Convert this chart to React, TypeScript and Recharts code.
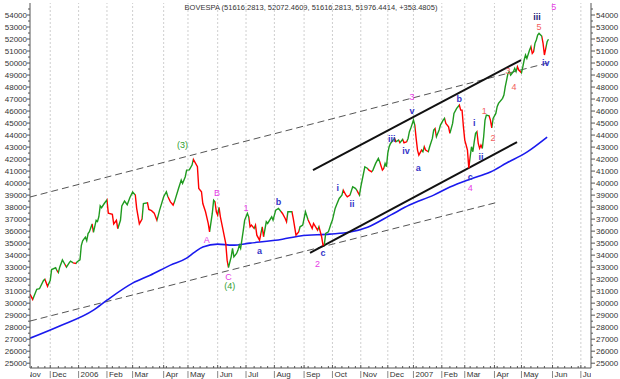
import React from "react";
import { ComposedChart, Line, XAxis, YAxis, ReferenceLine, ReferenceDot } from "recharts";

// session index (0 = first session shown) and closing levels
const days = [
  0, 2, 5, 7, 10, 11, 13, 15, 16, 19, 20, 21, 22, 24, 26, 27, 29, 30, 32, 34, 35, 37, 38, 39, 41, 42, 43, 44, 46, 47,
  49, 50, 51, 52, 53, 55, 57, 58, 61, 62, 64, 65, 67, 68, 70, 72, 74, 76, 78, 79, 81, 83, 84, 87, 88,
  90, 92, 94, 96, 99, 101, 102, 104, 106, 107, 110, 112, 113, 115, 116, 118, 120, 121, 124, 125, 127, 128, 130, 132, 133,
  135, 136, 137, 138, 139, 140, 141, 143, 144, 145, 146, 147, 149, 150, 151, 153, 154, 155, 156, 158, 159, 161, 162, 163,
  164, 166, 167, 168, 170, 171, 172, 173, 175, 176, 179, 180, 182, 184, 186, 187, 189, 190, 191, 194, 195, 197, 199, 200,
  202, 204, 206, 209, 210, 213, 214, 216, 217, 218, 219, 221, 223, 224, 226, 227, 229, 231, 232, 234, 235, 237, 239, 241,
  242, 244, 245, 247, 248, 250, 251, 253, 254, 256, 258, 259, 261, 262, 263, 264, 265, 266, 267, 268, 270, 271, 273, 274,
  276, 277, 279, 280, 281, 282, 284, 285, 286, 287, 288, 290, 291, 292, 293, 295, 296, 298, 299, 300, 301, 303, 304, 306,
  307, 308, 310, 311, 313, 314, 316, 317, 318, 319, 320, 321, 322, 323, 324, 325, 326, 327, 328, 329, 330, 331, 332, 333,
  334, 335, 336, 337, 338, 340, 341, 342, 343, 345, 346, 347, 350, 351, 352, 353, 354, 355, 356, 358, 359, 360, 361, 362,
  364, 365, 366, 367, 368, 370, 371, 372, 373, 374, 375, 376, 377, 379, 380, 381, 382, 383, 384,
];
const closes = [
  30750, 30300, 31150, 31200, 31900, 32000, 31400, 31900, 32800, 32950, 32700, 32550, 33000, 33600, 33200, 33000, 33350,
  33500, 33350, 33300, 33450, 33600, 34800, 35200, 35500, 35200, 35800, 35950, 36600, 35900,
  36900, 36800, 37200, 38100, 37950, 38300, 38600, 37500, 37400, 36600, 36900, 36200, 36900, 38100, 38500, 38200, 38800,
  39250, 39000, 37900, 36600, 37000, 38300, 38350, 37800,
  37700, 37500, 36900, 37750, 38860, 39280, 38900, 38440, 38170, 38440, 39550, 40250, 39970, 40530, 41080, 41100, 41500,
  41970, 41360, 39550, 39280, 38300, 37610, 36640, 35940,
  37470, 38580, 38440, 37610, 37330, 37970, 37190, 36080, 35530, 34970, 33580, 32970, 33860, 34560, 33860, 34140, 34400,
  34830, 34560, 36080, 36920, 37470, 37190, 36360,
  36500, 36220, 36500, 35660, 35250, 35800, 36360, 35530, 36780, 36640, 37190, 36920, 37750, 37890, 37610, 37470, 37050,
  36780, 37610, 37610, 37050, 35660, 35940, 36360,
  36500, 37610, 36920, 36220, 36640, 36080, 36360, 35530, 34830, 34900, 35800, 35940, 36640, 36920, 37890, 38170, 38720,
  38990, 39420, 38990, 38860, 39000, 39690, 39560,
  39420, 39000, 39690, 40800, 41360, 41220, 41080, 40940, 41080, 41640, 42060, 41780, 41080, 41220, 41640, 41360, 42500,
  43030, 43300, 43440, 43720, 43440, 43580, 43360,
  43640, 43360, 43440, 43720, 44280, 44560, 45250, 44830, 43720, 42750, 42330, 42750, 42610, 43030, 42750, 42610, 43030,
  43720, 44420, 44550, 43860, 44420, 44830, 45250,
  45390, 44970, 44690, 44140, 44970, 45800, 46220, 46360, 46500, 46080, 46080, 44700, 43580, 43170, 42750, 41240, 42190,
  43030, 42610, 43440, 44140, 44280, 43310, 42890,
  43170, 42890, 43860, 45250, 45670, 45600, 45250, 44600, 45390, 45800, 46360, 46640, 47060, 47330, 48030, 48580, 49140,
  49280, 49000, 49280, 49560, 49280, 49690, 49420,
  49190, 49690, 50250, 50670, 50390, 51080, 51360, 50810, 50950, 51640, 51920, 52330, 52470, 52250, 51640, 50670, 51220,
  51780, 51980,
];

// long moving average
const maDays = [0, 22, 47, 57, 76, 89, 104, 116, 122, 128, 139, 150, 163, 187, 200, 222, 237, 250, 267, 281, 299, 311, 326, 341, 353, 368, 383];
const maValues = [
  27080, 28100, 29420, 30250, 31670, 32330, 33170, 33750, 34250, 34670, 34920, 34830, 35000, 35330, 35600, 35750, 35920,
  36330, 37330, 38170, 39000, 39670, 40330, 40920, 41670, 42580, 43830,
];

// month ticks
const monthDays = [-4, 15, 36, 57, 76, 99, 117, 139, 160, 181, 203, 224, 245, 265, 284, 305, 322, 344, 364, 387, 408];
const monthLabels = ["Nov", "Dec", "2006", "Feb", "Mar", "Apr", "May", "Jun", "Jul", "Aug", "Sep", "Oct", "Nov", "Dec", "2007", "Feb", "Mar", "Apr", "May", "Jun", "Jul"];

// trend channels: [day, level, day, level]
const channelsDashed = [
  [0, 38840, 385, 50050],
  [0, 28510, 347, 38425],
];
const channelsSolid = [
  [209.6, 41090, 363.7, 50250],
  [207.4, 34180, 360.7, 43420],
];

// wave count
const waveText = ["(3)", "A", "B", "C", "(4)", "1", "a", "b", "2", "c", "i", "ii", "iii", "iv", "v", "3", "a", "b", "c", "4", "i", "ii", "1", "2", "3", "4", "5", "iii", "iv", "5"];
const waveDay = [113, 131, 138.5, 147, 148, 160, 170, 184, 213, 217, 228, 238.5, 268, 278.5, 283, 283, 287.5, 318, 326, 326, 329, 334, 336.5, 343, 354, 358.5, 377, 375.5, 382, 388];
const waveLevel = [43170, 35260, 39175, 32180, 31430, 37925, 34340, 38425, 33260, 34180, 39590, 38260, 43670, 42670, 46000, 47170, 41260, 47000, 40510, 39590, 45000, 42170, 46000, 43760, 49340, 48000, 53000, 53830, 50000, 54670];
const waveDegree = ["int", "minor", "minor", "minor", "int", "minor", "minute", "minute", "minor", "minute", "minute", "minute", "minute", "minute", "minute", "minor", "minute", "minute", "minute", "minor", "minute", "minute", "minuette", "minuette", "minuette", "minuette", "minuette", "top", "minute", "minor"];

const DEGREE_COLORS: Record<string, string> = {
  int: "#2f9e2f",
  minor: "#e63ce6",
  minute: "#3535c8",
  minuette: "#f25c5c",
  top: "#1c1c7a",
};

const GREEN = "#1f9a1f";
const RED = "#ff0000";
const AXIS = "#555";
const TXT = "#333";
const FONT = "'Liberation Sans', Arial, sans-serif";

const priceRows = days.map((d, i) => ({ day: d, close: closes[i] }));
const maRows = maDays.map((d, i) => ({ day: d, ma: maValues[i] }));

const yTicks: number[] = [];
for (let v = 25000; v <= 54500; v += 500) yTicks.push(v);

const xTicks: number[] = [...monthDays];
for (let d = 1; d < 415; d += 5) {
  if (monthDays.every((m) => Math.abs(m - d) > 1.5)) xTicks.push(d);
}
xTicks.sort((a, b) => a - b);

// red while the close sits under the mean of the three before it
function swingStops() {
  const first = days[0];
  const span = days[days.length - 1] - first;
  const out: React.ReactElement[] = [];
  for (let i = 1; i < closes.length; i++) {
    const prev = closes.slice(Math.max(0, i - 3), i);
    const mean = prev.reduce((s, v) => s + v, 0) / prev.length;
    const c = closes[i] < mean ? RED : GREEN;
    out.push(<stop key={"a" + i} offset={(days[i - 1] - first) / span} stopColor={c} />);
    out.push(<stop key={"b" + i} offset={(days[i] - first) / span} stopColor={c} />);
  }
  return out;
}

function RightTick({ x, y, payload }: any) {
  const major = payload.value % 1000 === 0;
  return (
    <g>
      <line x1={x} x2={x + (major ? 4 : 2)} y1={y} y2={y} stroke={AXIS} />
      {major && (
        <text x={x + 5} y={y + 3} fontSize={8} fill={TXT} fontFamily={FONT}>
          {payload.value}
        </text>
      )}
    </g>
  );
}

function LeftTick({ x, y, payload }: any) {
  const major = payload.value % 1000 === 0;
  return (
    <g>
      <line x1={x - (major ? 3 : 2)} x2={x} y1={y} y2={y} stroke={AXIS} />
      {major && (
        <text x={x - 3} y={y + 3} fontSize={8} fill={TXT} fontFamily={FONT} textAnchor="end">
          {payload.value}
        </text>
      )}
    </g>
  );
}

function MonthTick({ x, y, payload }: any) {
  const idx = monthDays.indexOf(payload.value);
  if (idx < 0) {
    return <line x1={x} x2={x} y1={y - 2} y2={y} stroke={AXIS} />;
  }
  return (
    <g clipPath="url(#xclip)">
      <line x1={x} x2={x} y1={y - 3} y2={y} stroke={AXIS} />
      <line x1={x} x2={x} y1={y + 3} y2={y + 10} stroke="#888" />
      <text x={x + 2} y={y + 9} fontSize={8} fill={TXT} fontFamily={FONT}>
        {monthLabels[idx]}
      </text>
    </g>
  );
}

function WaveMark({ cx, cy, text, color, bold }: any) {
  return (
    <text
      x={cx}
      y={cy}
      textAnchor="middle"
      dominantBaseline="central"
      fontSize={9}
      fontFamily={FONT}
      fontWeight={bold ? "bold" : "normal"}
      fill={color}
    >
      {text}
    </text>
  );
}

export default function App() {
  return (
    <div style={{ position: "absolute", left: 0, top: 0, background: "#fff" }}>
      <ComposedChart width={620} height={379} data={priceRows} margin={{ top: 3, right: 0, bottom: 0, left: 0 }}>
        <defs>
          <linearGradient id="swing" x1="0" y1="0" x2="1" y2="0">
            {swingStops()}
          </linearGradient>
          <clipPath id="xclip">
            <rect x={30} y={0} width={561} height={379} />
          </clipPath>
        </defs>
        <text x={311} y={10} textAnchor="middle" fontSize={7.5} fill={TXT} fontFamily={FONT}>
          BOVESPA (51616.2813, 52072.4609, 51616.2813, 51976.4414, +358.4805)
        </text>
        <XAxis
          dataKey="day"
          type="number"
          domain={[0, 415.5]}
          allowDataOverflow
          ticks={xTicks}
          interval={0}
          height={11}
          tickSize={0}
          tickMargin={0}
          tick={<MonthTick />}
          stroke={AXIS}
        />
        <YAxis
          yAxisId="l"
          orientation="left"
          width={30}
          type="number"
          domain={[24600, 55000]}
          allowDataOverflow
          ticks={yTicks}
          interval={0}
          tickSize={0}
          tickMargin={0}
          tick={<LeftTick />}
          stroke={AXIS}
        />
        <YAxis
          yAxisId="r"
          orientation="right"
          width={29}
          type="number"
          domain={[24600, 55000]}
          allowDataOverflow
          ticks={yTicks}
          interval={0}
          tickSize={0}
          tickMargin={0}
          tick={<RightTick />}
          stroke={AXIS}
        />
        {monthDays.slice(1).map((m, i) => (
          <ReferenceLine key={"g" + i} yAxisId="r" x={m} stroke="#cfcfcf" strokeDasharray="2 2" />
        ))}
        {channelsDashed.map((c, i) => (
          <ReferenceLine
            key={"d" + i}
            yAxisId="r"
            segment={[{ x: c[0], y: c[1] }, { x: c[2], y: c[3] }]}
            stroke="#555"
            strokeDasharray="7 4"
            strokeWidth={1}
          />
        ))}
        <Line
          yAxisId="r"
          data={maRows}
          dataKey="ma"
          type="monotone"
          stroke="#1a1aee"
          strokeWidth={1.6}
          dot={false}
          isAnimationActive={false}
        />
        {channelsSolid.map((c, i) => (
          <ReferenceLine
            key={"s" + i}
            yAxisId="r"
            segment={[{ x: c[0], y: c[1] }, { x: c[2], y: c[3] }]}
            stroke="#111"
            strokeWidth={2}
          />
        ))}
        <Line
          yAxisId="r"
          dataKey="close"
          type="linear"
          stroke="url(#swing)"
          strokeWidth={1.4}
          dot={false}
          isAnimationActive={false}
        />
        {waveText.map((t, i) => (
          <ReferenceDot
            key={"w" + i}
            yAxisId="r"
            x={waveDay[i]}
            y={waveLevel[i]}
            r={1}
            shape={(p: any) => (
              <WaveMark
                cx={p.cx}
                cy={p.cy}
                text={t}
                color={DEGREE_COLORS[waveDegree[i]]}
                bold={waveDegree[i] === "minute" || waveDegree[i] === "top"}
              />
            )}
          />
        ))}
      </ComposedChart>
    </div>
  );
}
